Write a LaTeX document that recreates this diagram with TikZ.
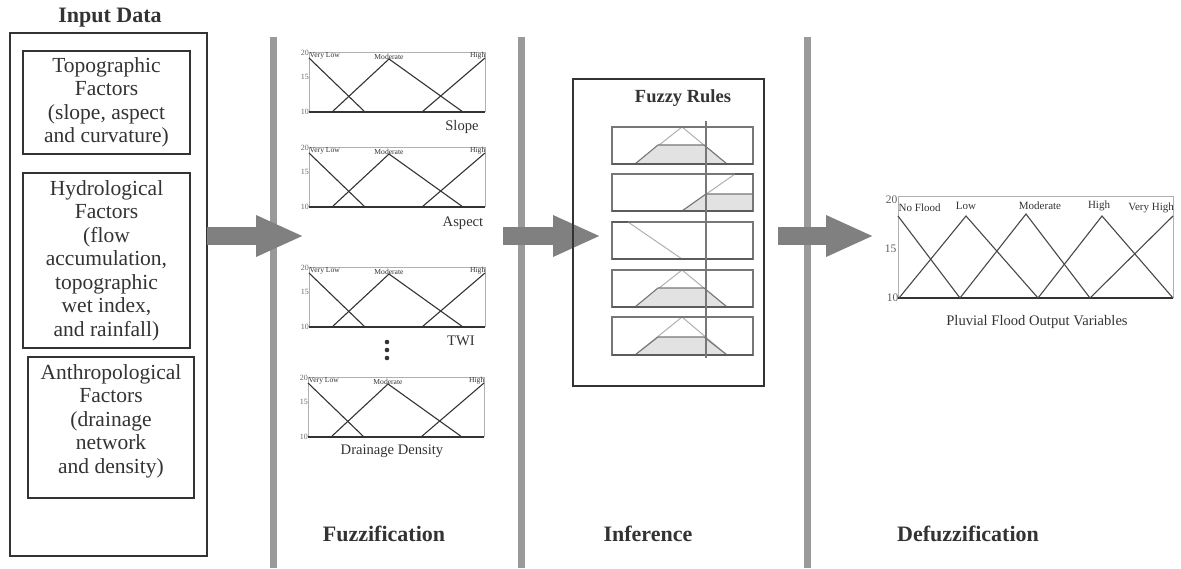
\documentclass[tikz,border=0pt]{standalone}
\usepackage{fontspec}
\setmainfont{Liberation Serif}
\usetikzlibrary{arrows.meta}
\definecolor{bargray}{HTML}{9A9A9A}
\definecolor{arrgray}{HTML}{808080}
\definecolor{ink}{HTML}{333333}
\definecolor{lightline}{HTML}{B0B0B0}
\definecolor{midline}{HTML}{777777}
\definecolor{fillgray}{HTML}{E2E2E2}

\newcommand{\fzchart}[3]{%
  \begin{scope}[shift={(#1,#2)}]
    \draw[lightline, line width=0.6pt] (0,60) -- (0,0) -- (176,0) -- (176,60);
    \draw[ink, line width=1.6pt] (0,60) -- (176,60);
    \draw[ink, line width=1.1pt] (0,6) -- (56,60);
    \draw[ink, line width=1.1pt] (23,60) -- (80,7) -- (154,60);
    \draw[ink, line width=1.1pt] (113,60) -- (176,6);
    \node[ticklbl, anchor=east] (#3t20) at (0.5,1) {20};
    \node[ticklbl, anchor=east] (#3t15) at (0.5,25) {15};
    \node[ticklbl, anchor=east] (#3t10) at (0.5,60) {10};
    \node[setlbl, anchor=west] (#3vl) at (0.5,4) {Very Low};
    \node[setlbl] (#3mo) at (80,5) {Moderate};
    \node[setlbl, anchor=east] (#3hi) at (176.5,4) {High};
  \end{scope}}

\begin{document}
\begin{tikzpicture}[x=1pt,y=-1pt,
  box/.style={draw=ink, line width=1.4pt, align=center, inner sep=0pt},
  bar/.style={draw=bargray, line width=7pt},
  bigarrow/.style={draw=arrgray, line width=18pt, -{Triangle[length=48pt,width=38pt]}},
  title/.style={font=\fontsize{22}{24}\selectfont\bfseries, text=ink, inner sep=0pt},
  boxtext/.style={font=\fontsize{21.5}{23.5}\selectfont, text=ink},
  chartlbl/.style={font=\fontsize{14.6}{16}\selectfont, text=ink, inner sep=0pt},
  ticklbl/.style={font=\fontsize{8}{9}\selectfont, text=ink!75, inner sep=0.5pt},
  setlbl/.style={font=\fontsize{7.6}{8}\selectfont, text=ink, inner sep=0pt},
  bigtick/.style={font=\fontsize{11.5}{12}\selectfont, text=ink!80, inner sep=0.5pt},
  bigset/.style={font=\fontsize{11}{12}\selectfont, text=ink, inner sep=0pt},
  rowbox/.style={draw=midline, line width=1.2pt},
  rowbase/.style={draw=ink!80, line width=2.2pt},
  tri/.style={draw=lightline, line width=1pt},
  trap/.style={fill=fillgray, draw=midline, line width=1.1pt},
  memb/.style={draw=ink!90, line width=1.1pt}
]
\useasboundingbox (0,0) rectangle (1181,568);

% ---------- Input data ----------
\node[title] (inputtitle) at (110,18) {Input Data};
\node[box, minimum width=197pt, minimum height=523pt] (input) at (108.5,294.5) {};
\node[box, boxtext, minimum width=167pt, minimum height=103pt] (topo) at (106.5,102.5)
  {Topographic\\Factors\\(slope, aspect\\and curvature)};
\node[box, boxtext, minimum width=167pt, minimum height=175pt] (hydro) at (106.5,260.5)
  {Hydrological\\Factors\\(flow\\accumulation,\\topographic\\wet index,\\and rainfall)};
\node[box, minimum width=166pt, minimum height=141pt] (anthro) at (111,427.5) {};
\node[boxtext, align=center, inner sep=0pt] (anthrotext) at (111,421)
  {Anthropological\\Factors\\(drainage\\network\\and density)};

% ---------- separator bars ----------
\draw[bar] (273,37) -- (273,568);
\draw[bar] (521,37) -- (521,568);
\draw[bar] (807,37) -- (807,568);

% ---------- arrows ----------
\coordinate (a1s) at (207,236);
\coordinate (a1e) at (304,236);
\coordinate (a2s) at (503,236);
\coordinate (a2e) at (601,236);
\coordinate (a3s) at (778,236);
\coordinate (a3e) at (874,236);
\draw[bigarrow] (a1s) -- (a1e);
\draw[bigarrow] (a2s) -- (a2e);
\draw[bigarrow] (a3s) -- (a3e);

% ---------- Fuzzification ----------
\fzchart{309}{52}{c1}
\node[chartlbl] (slopelbl) at (462,127) {Slope};
\fzchart{309}{147}{c2}
\node[chartlbl] (aspectlbl) at (463,223) {Aspect};
\fzchart{309}{267}{c3}
\node[chartlbl] (twilbl) at (461,341) {TWI};
\fill[ink] (387,342) circle (2.3);
\fill[ink] (387,350) circle (2.3);
\fill[ink] (387,358) circle (2.3);
\fzchart{308}{377}{c4}
\node[chartlbl] (drainlbl) at (392,451) {Drainage Density};

% ---------- Inference ----------
\node[draw=ink, line width=1.3pt, minimum width=191pt, minimum height=307pt, inner sep=0pt] (rules) at (668.5,232.5) {};
\node[font=\fontsize{18.5}{20}\selectfont\bfseries, text=ink, inner sep=0pt] (rulestitle) at (683,98) {Fuzzy Rules};

% row 1
\begin{scope}[shift={(612,127)}]
  \draw[tri] (23,37) -- (70,0) -- (115,37);
  \draw[trap] (23,37) -- (46,18) -- (92,18) -- (115,37) -- cycle;
  \draw[rowbox] (0,0) rectangle (141,37);
  \draw[rowbase] (0,37) -- (141,37);
\end{scope}
% row 2
\begin{scope}[shift={(612,174)}]
  \draw[tri] (70,37) -- (123,0);
  \draw[trap] (70,37) -- (94,20) -- (141,20) -- (141,37) -- cycle;
  \draw[rowbox] (0,0) rectangle (141,37);
  \draw[rowbase] (0,37) -- (141,37);
  \draw[rowbase] (123,0) -- (141,0);
\end{scope}
% row 3
\begin{scope}[shift={(612,222)}]
  \draw[tri] (16,0) -- (70,37);
  \draw[rowbox] (0,0) rectangle (141,37);
  \draw[rowbase] (0,37) -- (141,37);
  \draw[rowbase] (0,0) -- (16,0);
\end{scope}
% row 4
\begin{scope}[shift={(612,270)}]
  \draw[tri] (23,37) -- (70,0) -- (115,37);
  \draw[trap] (23,37) -- (46,18) -- (92,18) -- (115,37) -- cycle;
  \draw[rowbox] (0,0) rectangle (141,37);
  \draw[rowbase] (0,37) -- (141,37);
\end{scope}
% row 5
\begin{scope}[shift={(612,317)}]
  \draw[tri] (23,38) -- (70,0) -- (115,38);
  \draw[trap] (23,38) -- (46,20) -- (92,20) -- (115,38) -- cycle;
  \draw[rowbox] (0,0) rectangle (141,38);
  \draw[rowbase] (0,38) -- (141,38);
\end{scope}
\draw[draw=midline, line width=1.3pt] (706,121) -- (706,358);

% ---------- Defuzzification ----------
\draw[lightline, line width=0.7pt] (898,298) -- (898,196) -- (1173,196) -- (1173,298);
\draw[ink, line width=1.8pt] (898,298) -- (1173,298);
\draw[memb] (898,216) -- (960,298);
\draw[memb] (899,298) -- (966,216) -- (1038,298);
\draw[memb] (960,298) -- (1026,214) -- (1090,298);
\draw[memb] (1038,298) -- (1102,216) -- (1173,298);
\draw[memb] (1090,298) -- (1173,216);
\node[bigtick, anchor=east] (d20) at (898,200) {20};
\node[bigtick, anchor=east] (d15) at (897,249) {15};
\node[bigtick, anchor=east] (d10) at (899,298) {10};
\node[bigset, anchor=west] (dnf) at (898.5,208) {No Flood};
\node[bigset] (dlow) at (966,206) {Low};
\node[bigset] (dmod) at (1040,206) {Moderate};
\node[bigset] (dhigh) at (1099,206) {High};
\node[bigset, anchor=east] (dvh) at (1174,208) {Very High};
\node[chartlbl] (pluvial) at (1037,322) {Pluvial Flood Output Variables};

% ---------- stage titles ----------
\node[title] (fuzzlbl) at (384,534) {Fuzzification};
\node[title] (inflbl) at (648,534) {Inference};
\node[title] (defuzzlbl) at (968,534) {Defuzzification};
\end{tikzpicture}
\end{document}
